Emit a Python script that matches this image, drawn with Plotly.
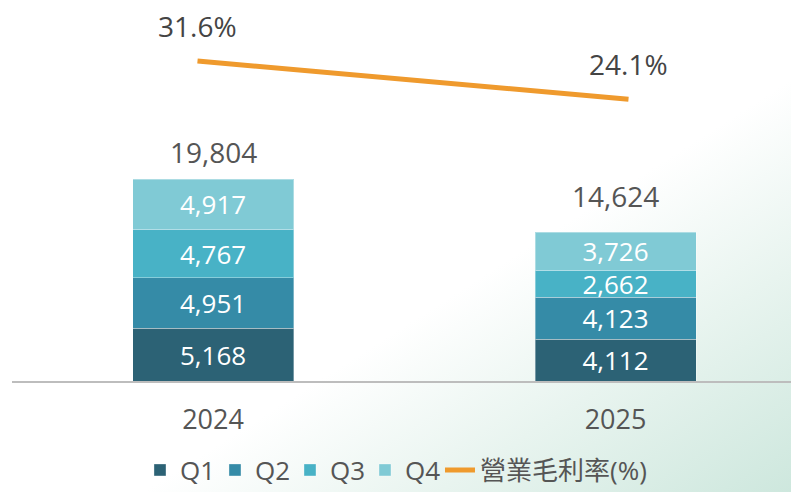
import base64
import plotly.graph_objects as go

years = ["2024", "2025"]
q1 = [5168, 4112]
q2 = [4951, 4123]
q3 = [4767, 2662]
q4 = [4917, 3726]
totals = [19804, 14624]
margin_pct = [31.6, 24.1]
series_names = ["Q1", "Q2", "Q3", "Q4"]
line_name = "營業毛利率(%)"

colors = ["#2C6275", "#358BA7", "#48B2C6", "#80CAD5"]
line_color = "#EF9A2D"
FONT = "'Open Sans', 'Noto Sans CJK TC', sans-serif"

# figure sits at an 8px body offset in the page; size it to fill the rest
W, H = 791, 484

fig = go.Figure()
for name, vals, col in zip(series_names, [q1, q2, q3, q4], colors):
    fig.add_trace(go.Bar(
        x=years, y=vals, name=name,
        marker=dict(color=col, line=dict(color="rgba(255,255,255,0.35)", width=1)),
        width=0.4, legendwidth=30,
        text=[f"{v:,}" for v in vals], textposition="inside",
        insidetextanchor="middle",
        textfont=dict(size=26, color="white", family=FONT),
        hoverinfo="skip",
    ))

fig.add_trace(go.Scatter(
    x=years, y=margin_pct, name=line_name, mode="lines",
    line=dict(color=line_color, width=5), legendwidth=175,
    xaxis="x2", yaxis="y2", hoverinfo="skip",
))

total_label_shift = [27, 36]
annotations = []
for i, t in enumerate(totals):
    annotations.append(dict(x=i, y=t, xref="x", yref="y", text=f"{t:,}",
                            showarrow=False, yshift=total_label_shift[i], yanchor="middle",
                            font=dict(size=28, color="#555555", family=FONT)))
for i, p in enumerate(margin_pct):
    annotations.append(dict(x=i, y=p, xref="x2", yref="y2", text=f"{p}%",
                            showarrow=False, yshift=35, yanchor="middle",
                            font=dict(size=28, color="#444444", family=FONT)))

svg = f"""<svg xmlns='http://www.w3.org/2000/svg' width='{W}' height='{H}' viewBox='0 0 {W} {H}' preserveAspectRatio='none'>
<defs><linearGradient id='g' gradientUnits='userSpaceOnUse' x1='602' y1='187' x2='791' y2='484'>
<stop offset='0' stop-color='#ffffff'/><stop offset='0.45' stop-color='#e8f4ef'/><stop offset='1' stop-color='#cde7dd'/></linearGradient></defs>
<rect width='{W}' height='{H}' fill='url(#g)'/></svg>"""
bg = "data:image/svg+xml;base64," + base64.b64encode(svg.encode()).decode()

L, R, T, B = 4, 0, 2, 111
pw, ph = W - L - R, H - T - B

fig.update_layout(
    width=W, height=H,
    margin=dict(l=L, r=R, t=T, b=B, autoexpand=False),
    barmode="stack",
    paper_bgcolor="white", plot_bgcolor="rgba(0,0,0,0)",
    showlegend=True,
    legend=dict(orientation="h", x=0.493, xanchor="center", y=-0.24, yanchor="middle",
                font=dict(size=26, color="#555555", family=FONT),
                bgcolor="rgba(0,0,0,0)", traceorder="normal"),
    uniformtext=dict(minsize=26, mode="show"),
    annotations=annotations,
    images=[dict(source=bg, xref="paper", yref="paper",
                 x=-L / pw, y=1 + T / ph, sizex=W / pw, sizey=H / ph,
                 xanchor="left", yanchor="top", sizing="stretch", layer="below")],
    xaxis=dict(type="category", range=[-0.4994, 1.4559], showgrid=False, zeroline=False,
               showline=True, linecolor="#bdbdbd", linewidth=2,
               ticks="", ticklabelstandoff=14,
               tickfont=dict(size=27, color="#555555", family=FONT)),
    xaxis2=dict(type="category", overlaying="x", range=[-0.4304, 1.3956], visible=False),
    yaxis=dict(range=[0, 36444], visible=False, showgrid=False, zeroline=False),
    yaxis2=dict(range=[-31.06, 41.59], overlaying="y", visible=False, showgrid=False),
)

fig.write_html("out.html")
